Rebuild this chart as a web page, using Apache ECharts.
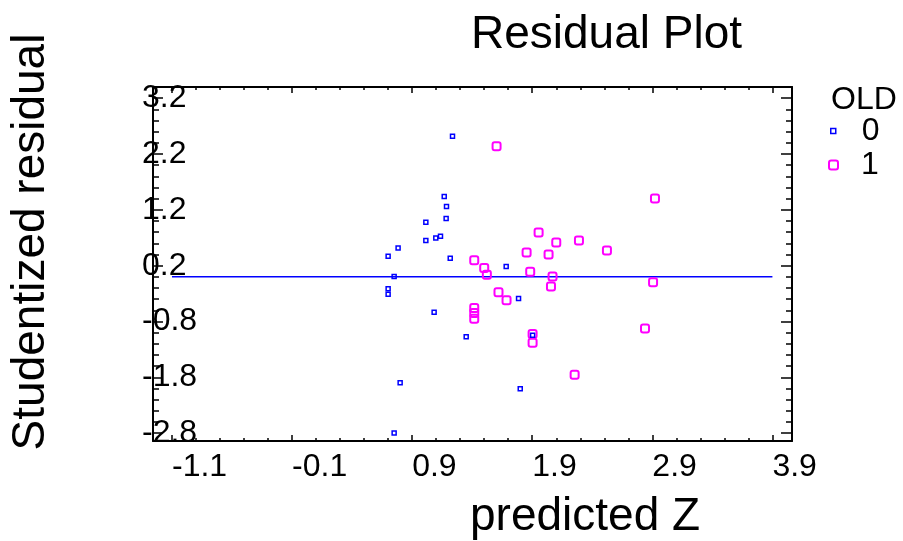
<!DOCTYPE html>
<html><head><meta charset="utf-8">
<script src="https://cdn.jsdelivr.net/npm/echarts@6/dist/echarts.min.js"></script>
<style>html,body{margin:0;padding:0;background:#fff}#c{width:903px;height:541px}</style>
</head><body><div id="c"></div>
<script>
// ---- data ----
const xTickLabels = [-1.1, -0.1, 0.9, 1.9, 2.9, 3.9];
const yTickLabels = [-2.8, -1.8, -0.8, 0.2, 1.2, 2.2, 3.2];

const old0X = [1.236, 1.167, 1.186, 1.183, 1.014, 1.014, 1.097, 1.136, 0.783, 0.700, 1.217,
               0.750, 0.700, 0.700, 1.083, 1.350, 0.800, 0.750, 1.683, 1.786, 1.903, 1.800];
const old0Y = [2.516, 1.441, 1.262, 1.047, 0.976, 0.653, 0.694, 0.725, 0.515, 0.367, 0.331,
               0.008, -0.212, -0.314, -0.636, -1.072, -1.896, -2.798, 0.187, -0.386, -1.048, -2.003];

const old1X = [1.603, 2.922, 1.953, 2.100, 2.289, 2.522, 1.853, 2.036, 1.417, 1.500, 1.883, 1.522,
               2.069, 2.056, 2.906, 1.619, 1.686, 1.417, 1.417, 1.417, 2.839, 1.903, 1.903, 2.253];
const old1Y = [2.337, 1.405, 0.796, 0.617, 0.653, 0.474, 0.438, 0.402, 0.295, 0.157, 0.090, 0.039,
               0.008, -0.171, -0.099, -0.278, -0.421, -0.559, -0.649, -0.749, -0.923, -1.025, -1.179, -1.752];

const zeroLineX = [-1.1, 3.9];
const zeroLineY = [0, 0];

const xRange = [-1.258, 4.063];
const yRange = [-2.94, 3.40];

// minor tick positions (every 0.2)
const xMinor = []; for (let k = 0; k <= 25; k++) xMinor.push(+(-1.1 + 0.2 * k).toFixed(2));
const yMinor = []; for (let k = 0; k <= 30; k++) yMinor.push(+(-2.8 + 0.2 * k).toFixed(2));

const FONT = 'Liberation Sans, Arial, sans-serif';
const BLACK = '#000';
const TICKFS = 32;

function xAx(pos, ticks, len, labels) {
  return {
    type: 'value', position: pos, min: xRange[0], max: xRange[1], gridIndex: 0,
    axisLine: { show: labels !== null, onZero: false, lineStyle: { color: BLACK, width: 2 } },
    axisTick: { show: true, inside: true, length: len, customValues: ticks, lineStyle: { color: BLACK, width: 1.5 } },
    axisLabel: labels ? {
      show: true, customValues: labels, align: 'left', margin: 10, fontSize: TICKFS, fontFamily: FONT, color: BLACK,
      formatter: v => (+v).toFixed(1)
    } : { show: false },
    splitLine: { show: false }
  };
}
function yAx(pos, ticks, len, labels) {
  return {
    type: 'value', position: pos, min: yRange[0], max: yRange[1], gridIndex: 0,
    axisLine: { show: labels !== null, onZero: false, lineStyle: { color: BLACK, width: 2 } },
    axisTick: { show: true, inside: true, length: len, customValues: ticks, lineStyle: { color: BLACK, width: 1.5 } },
    axisLabel: labels ? {
      show: true, customValues: labels, align: 'left', margin: 11, fontSize: TICKFS, fontFamily: FONT, color: BLACK,
      formatter: v => (+v).toFixed(1)
    } : { show: false },
    splitLine: { show: false }
  };
}

const chart = echarts.init(document.getElementById('c'), null, { renderer: 'canvas' });
chart.setOption({
  backgroundColor: '#fff',
  animation: false,
  grid: { left: 153, top: 87, width: 639, height: 354, containLabel: false, outerBoundsMode: 'none' },
  title: [
    { text: 'Residual Plot', left: 471, top: 12, padding: 0,
      textStyle: { fontSize: 46, fontWeight: 'normal', fontFamily: FONT, color: BLACK } },
    { text: 'predicted Z', left: 470, top: 494, padding: 0,
      textStyle: { fontSize: 46, fontWeight: 'normal', fontFamily: FONT, color: BLACK } },
    { text: 'OLD', left: 831, top: 84, padding: 0,
      textStyle: { fontSize: 32, fontWeight: 'normal', fontFamily: FONT, color: BLACK } }
  ],
  graphic: [
    { type: 'text', x: 31, y: 242, rotation: Math.PI / 2,
      style: { text: 'Studentized residual', fontSize: 46, fontFamily: FONT, fill: BLACK,
               align: 'center', verticalAlign: 'middle' } }
  ],
  legend: [
    { data: ['0'], orient: 'vertical', left: 830, top: 115, padding: 0, itemWidth: 5, itemHeight: 5,
      itemStyle: { borderWidth: 1.5 },
      textStyle: { fontSize: 32, fontFamily: FONT, color: BLACK, padding: [0, 0, 0, 21] } },
    { data: ['1'], orient: 'vertical', left: 828, top: 149, padding: 0, itemWidth: 9, itemHeight: 9,
      itemStyle: { borderWidth: 2 },
      textStyle: { fontSize: 32, fontFamily: FONT, color: BLACK, padding: [0, 0, 0, 18] } }
  ],
  xAxis: [
    xAx('bottom', xTickLabels, 6, xTickLabels),
    xAx('top', xTickLabels, 6, false),
    xAx('bottom', xMinor, 3, null),
    xAx('top', xMinor, 3, null)
  ],
  yAxis: [
    yAx('left', yTickLabels, 10, yTickLabels),
    yAx('right', yTickLabels, 11, false),
    yAx('left', yMinor, 6, null),
    yAx('right', yMinor, 6, null)
  ],
  series: [
    { type: 'line', name: 'zero', xAxisIndex: 0, yAxisIndex: 0, z: 1, silent: true,
      data: zeroLineX.map((x, i) => [x, zeroLineY[i]]), symbol: 'none',
      lineStyle: { color: '#0000ff', width: 1.5 } },
    { type: 'scatter', name: '0', xAxisIndex: 0, yAxisIndex: 0, z: 3,
      data: old0X.map((x, i) => [x, old0Y[i]]), symbol: 'rect', symbolSize: 4,
      itemStyle: { color: 'rgba(255,255,255,0)', borderColor: '#0000ff', borderWidth: 1.5, opacity: 1 } },
    { type: 'scatter', name: '1', xAxisIndex: 0, yAxisIndex: 0, z: 2,
      data: old1X.map((x, i) => [x, old1Y[i]]), symbol: 'roundRect', symbolSize: 8,
      itemStyle: { color: 'rgba(255,255,255,0)', borderColor: '#ff00ff', borderWidth: 2, opacity: 1 } }
  ]
});
</script>
</body></html>
